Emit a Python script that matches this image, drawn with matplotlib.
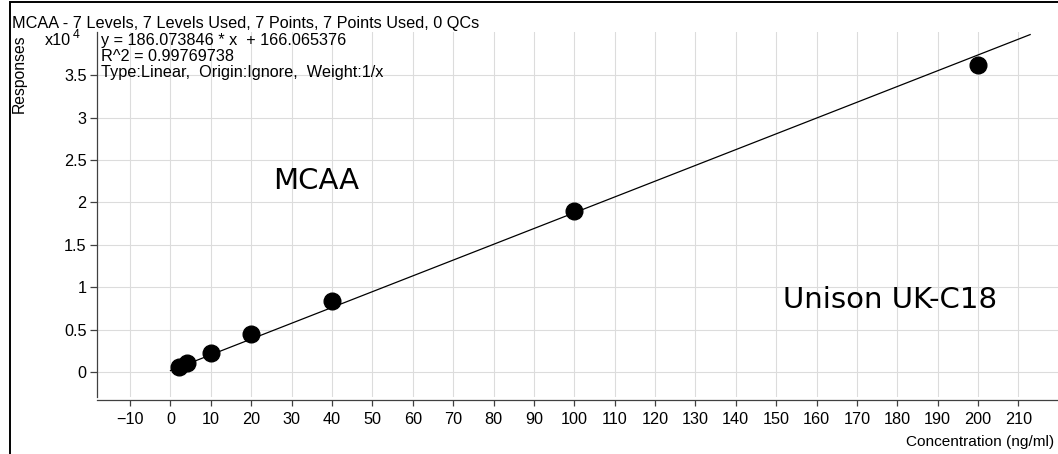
import numpy as np
import matplotlib.pyplot as plt
from matplotlib.patches import Rectangle

plt.rcParams['font.family'] = ['Liberation Sans', 'DejaVu Sans']

# calibration levels (ng/ml) and peak responses
conc = [2, 4, 10, 20, 40, 100, 200]
resp = [630, 1030, 2280, 4480, 8370, 18980, 36200]

# 1/x weighted linear fit
slope = 186.073846
intercept = 166.065376
r2 = 0.99769738

xticks = np.arange(-10, 220, 10)
yticks = np.arange(0, 35001, 5000)
ytick_labels = ["0", "0.5", "1", "1.5", "2", "2.5", "3", "3.5"]

W, H = 1058, 454
fs = 11.7
fig = plt.figure(figsize=(W / 100, H / 100), dpi=100)

# outer frame
fig.patches.append(Rectangle((10 / W, -0.1), 1.2, 1.1 - 2 / H, transform=fig.transFigure,
                             fill=False, lw=1.4, ec='black'))

ax = fig.add_axes([97 / W, 1 - 397 / H, 1 - 97 / W, (397 - 32) / H])

fx = np.linspace(0, 212.9, 200)
ax.plot(fx, slope * fx + intercept, color='black', lw=0.9, zorder=3)
ax.plot(conc, resp, 'o', color='black', ms=12, zorder=4)

ax.set_xlim(-18.2, 219.8)
ax.set_ylim(-2948, 40086)
ax.set_xticks(xticks)
ax.set_yticks(yticks)
ax.set_yticklabels(ytick_labels)
ax.grid(True, color='#dcdcdc', lw=0.8)
ax.set_axisbelow(True)

for s in ['top', 'right']:
    ax.spines[s].set_visible(False)
ax.spines['bottom'].set_position(('outward', 2.2))
for s in ['left', 'bottom']:
    ax.spines[s].set_color('#404040')
    ax.spines[s].set_linewidth(0.9)
ax.tick_params(axis='x', length=4.5, width=0.9, color='#404040', pad=4.0, labelsize=fs)
ax.tick_params(axis='y', length=5, width=0.9, color='#404040', pad=2.5, labelsize=fs)

# header and axis captions
fig.text(12 / W, 1 - 27.7 / H, "MCAA - 7 Levels, 7 Levels Used, 7 Points, 7 Points Used, 0 QCs",
         fontsize=fs, va='baseline', ha='left')
fig.text(19 / W, 1 - 74 / H, "Responses", rotation=90, fontsize=fs - 0.4, ha='center', va='center')
fig.text(45 / W, 1 - 45 / H, "x10", fontsize=fs, va='baseline', ha='left')
fig.text(73 / W, 1 - 38 / H, "4", fontsize=8.8, va='baseline', ha='left')
fig.text(1054 / W, 1 - 442 / H, "Concentration (ng/ml)", fontsize=fs - 0.6, ha='right', va='center')

# regression summary
fig.text(101 / W, 1 - 45 / H, f"y = {slope:.6f} * x  + {intercept:.6f}", fontsize=fs, va='baseline')
fig.text(101 / W, 1 - 61 / H, f"R^2 = {r2:.8f}", fontsize=fs, va='baseline')
fig.text(101 / W, 1 - 77 / H, "Type:Linear,  Origin:Ignore,  Weight:1/x", fontsize=fs, va='baseline')

# compound / column annotations
fig.text(273 / W, 1 - 181 / H, "MCAA", fontsize=21, family='DejaVu Sans',
         ha='left', va='center')
fig.text(783 / W, 1 - 300 / H, "Unison UK-C18", fontsize=21, family='DejaVu Sans',
         ha='left', va='center')

fig.savefig("out.png", dpi=100)
